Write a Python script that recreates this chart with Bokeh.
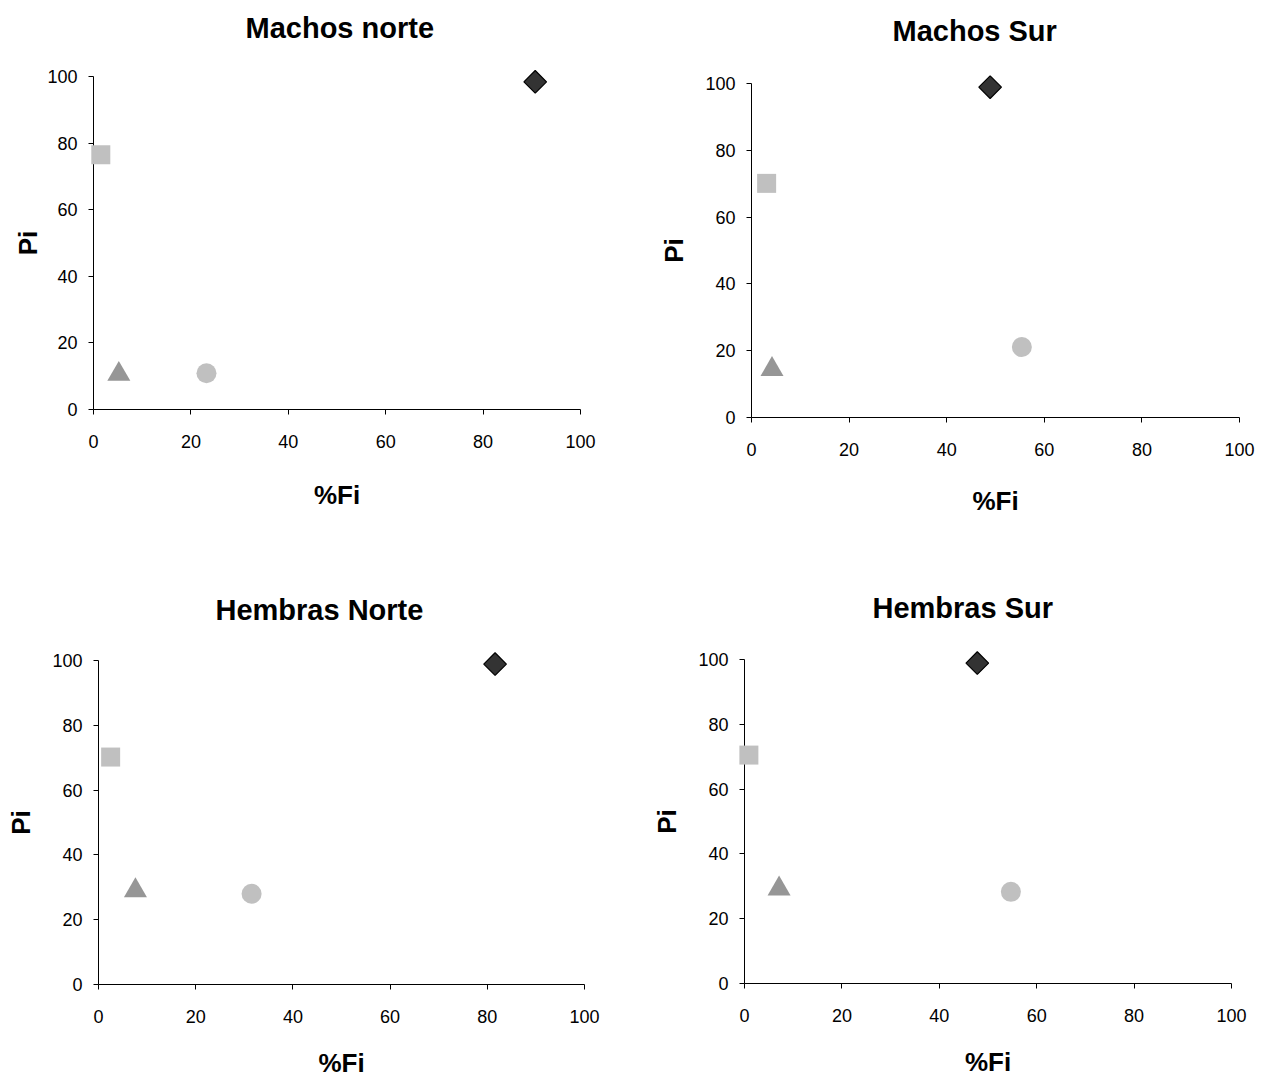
import math
from bokeh.plotting import figure
from bokeh.layouts import column, row
from bokeh.models import Range1d, Title
from bokeh.embed import file_html
from bokeh.resources import INLINE

# ---------------- data ----------------
titles = ["Machos norte", "Machos Sur", "Hembras Norte", "Hembras Sur"]
x_label = "%Fi"
y_label = "Pi"
tick_values = [0, 20, 40, 60, 80, 100]

# one value per panel (order as in titles)
fi_diamond = [90.7, 48.9, 81.6, 47.8]
pi_diamond = [98.4, 98.9, 98.9, 98.9]
fi_square = [1.5, 3.1, 2.5, 0.9]
pi_square = [76.5, 70.1, 70.2, 70.5]
fi_triangle = [5.2, 4.2, 7.6, 7.1]
pi_triangle = [10.6, 14.4, 29.0, 29.2]
fi_circle = [23.2, 55.4, 31.5, 54.7]
pi_circle = [10.9, 21.1, 28.0, 28.3]

# ---------------- layout / style ----------------
FONT = "Liberation Sans"
cfg = [
    dict(fw=487, fh=333, l=93, r=60, t=76, b=136, t_off=152, gap=30, y_std=1, x_std=29),
    dict(fw=488, fh=334, l=111, r=29, t=83, b=128, t_off=141, gap=34, y_std=13, x_std=27),
    dict(fw=486, fh=324, l=98, r=56, t=115, b=96, t_off=117, gap=32, y_std=13, x_std=22),
    dict(fw=487, fh=324, l=104, r=37, t=114, b=97, t_off=128, gap=33, y_std=13, x_std=22),
]

figs = []
for i, c in enumerate(cfg):
    p = figure(width=c["l"] + c["fw"] + c["r"], height=c["t"] + c["fh"] + c["b"],
               x_range=Range1d(0, 100), y_range=Range1d(0, 100),
               output_backend="svg", toolbar_location=None,
               min_border_left=c["l"], min_border_right=c["r"],
               min_border_top=c["t"], min_border_bottom=c["b"],
               title=titles[i])
    p.title.align = "left"
    p.title.offset = c["t_off"]
    p.title.standoff = 0
    p.title.text_font = FONT
    p.title.text_font_size = "29px"
    p.title.text_font_style = "bold"
    p.title.text_color = "black"
    # empty spacer between the frame and the title
    p.add_layout(Title(text=" ", text_font_size="1px", standoff=c["gap"]), "above")

    p.xgrid.visible = False
    p.ygrid.visible = False
    p.outline_line_color = None
    p.background_fill_color = "white"
    p.border_fill_color = "white"

    for ax in (p.xaxis[0], p.yaxis[0]):
        ax.ticker = tick_values
        ax.major_tick_in = 0
        ax.major_tick_out = 5
        ax.minor_tick_in = 0
        ax.minor_tick_out = 0
        ax.axis_line_color = "black"
        ax.major_tick_line_color = "black"
        ax.major_label_text_font = FONT
        ax.major_label_text_font_size = "18px"
        ax.major_label_text_color = "black"
        ax.axis_label_text_font = FONT
        ax.axis_label_text_font_size = "26px"
        ax.axis_label_text_font_style = "bold"
        ax.axis_label_text_color = "black"
    p.xaxis[0].axis_label = x_label
    p.yaxis[0].axis_label = y_label
    p.xaxis[0].major_label_standoff = 20
    p.yaxis[0].major_label_standoff = 11
    p.xaxis[0].axis_label_standoff = c["x_std"]
    p.yaxis[0].axis_label_standoff = c["y_std"]

    rs = []
    rs.append(p.scatter([fi_square[i]], [pi_square[i]], marker="square", size=19,
                        fill_color="#C0C0C0", line_color=None))
    rs.append(p.scatter([fi_triangle[i]], [pi_triangle[i]], marker="triangle", size=23,
                        fill_color="#969696", line_color=None))
    rs.append(p.scatter([fi_circle[i]], [pi_circle[i]], marker="circle", size=20,
                        fill_color="#C0C0C0", line_color=None))
    rs.append(p.scatter([fi_diamond[i]], [pi_diamond[i]], marker="square", size=16,
                        angle=math.pi / 4, fill_color="#333333", line_color="black",
                        line_width=1.2))
    for r in rs:
        r.level = "overlay"
    figs.append(p)

layout = column(row(column(figs[0]), column(figs[1])),
                row(column(figs[2]), column(figs[3])))
open("out.html", "w").write(file_html(layout, INLINE))
